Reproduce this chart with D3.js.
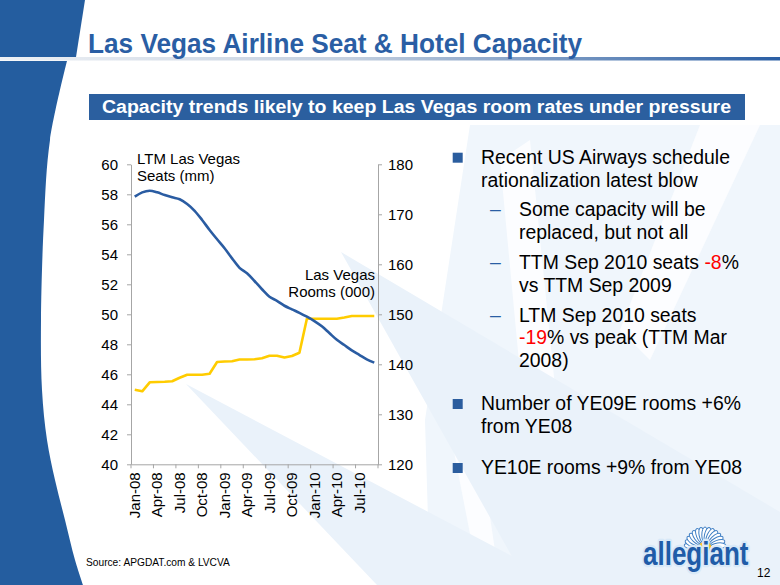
<!DOCTYPE html>
<html><head><meta charset="utf-8">
<script src="https://cdn.jsdelivr.net/npm/d3@7"></script>
<style>
body{margin:0;background:#fff}
svg{display:block}
text{font-family:"Liberation Sans",Arial,Helvetica,sans-serif}
</style></head>
<body><svg id="c" width="780" height="585"></svg>
<script>
// ---------- data ----------
const months = ["Jan-08","Feb-08","Mar-08","Apr-08","May-08","Jun-08","Jul-08","Aug-08","Sep-08","Oct-08","Nov-08","Dec-08",
  "Jan-09","Feb-09","Mar-09","Apr-09","May-09","Jun-09","Jul-09","Aug-09","Sep-09","Oct-09","Nov-09","Dec-09",
  "Jan-10","Feb-10","Mar-10","Apr-10","May-10","Jun-10","Jul-10","Aug-10","Sep-10"];
const tickLabels = ["Jan-08","Apr-08","Jul-08","Oct-08","Jan-09","Apr-09","Jul-09","Oct-09","Jan-10","Apr-10","Jul-10"];
const seats = [57.84,58.13,58.24,58.13,57.95,57.8,57.67,57.35,56.9,56.29,55.62,55.0,54.4,53.73,53.1,52.73,52.22,51.67,51.17,50.9,50.57,50.33,50.1,49.84,49.55,49.2,48.75,48.3,47.95,47.6,47.3,47.0,46.78];
const rooms = [134.9,134.6,136.4,136.45,136.5,136.6,137.3,137.9,137.9,137.9,138.1,140.45,140.55,140.6,140.95,140.95,141.0,141.2,141.7,141.7,141.35,141.65,142.3,149.1,149.1,149.1,149.1,149.1,149.35,149.65,149.65,149.65,149.65];
const leftTicks = [40,42,44,46,48,50,52,54,56,58,60];
const rightTicks = [120,130,140,150,160,170,180];

const blue = "#2a5ea4";
const svg = d3.select("#c");

// ---------- background ----------
const pale = "#eaf2fa";
svg.append("rect").attr("width",780).attr("height",585).attr("fill","#fff");
// text-area pale tint (soft, slanted edges) with white rays
svg.append("path").attr("fill","#f0f6fc")
  .attr("d","M470,125 L780,125 L780,585 L430,585 L425,420 Z");
const whiteRays = [
  [[500,160],[530,140],[575,585],[540,585]],
  [[620,330],[700,125],[760,125],[650,360]],
  [[440,380],[470,380],[500,585],[480,585]]
];
whiteRays.forEach(p=>svg.append("path").attr("fill","#fcfdff").attr("d","M"+p.join("L")+"Z"));
const paleRays = [
  [[186,384],[900,761],[377,585]],
  [[341,252],[780,512],[780,585],[528,585]]
];
paleRays.forEach(p=>svg.append("path").attr("fill",pale).attr("d","M"+p.join("L")+"Z"));

// left blue shapes
svg.append("path").attr("fill","#245d9f").attr("d","M0,0 L85,0 L76,57 L0,57 Z");
const edge = [[67,61],[50,140],[44,220],[41,320],[42,390],[47,440],[55,480],[65,520],[75,560],[83,585]];
const edgeLine = d3.line().curve(d3.curveCatmullRom);
svg.append("path").attr("fill","#245d9f")
  .attr("d", "M0,61 L" + edgeLine(edge).slice(1) + " L0,585 Z");

// title rule with gradient
const defs = svg.append("defs");
const lg = defs.append("linearGradient").attr("id","rule").attr("x1","0").attr("x2","1");
lg.append("stop").attr("offset","0").attr("stop-color","#eef1f5");
lg.append("stop").attr("offset","0.45").attr("stop-color","#c3cfdf");
lg.append("stop").attr("offset","1").attr("stop-color","#2a5ea4");
svg.append("rect").attr("x",0).attr("y",57).attr("width",780).attr("height",3.5).attr("fill","url(#rule)");

// title
svg.append("text").attr("x",88).attr("y",53).attr("font-size",27).attr("font-weight","bold")
  .attr("fill",blue).attr("textLength",494).attr("lengthAdjust","spacingAndGlyphs")
  .text("Las Vegas Airline Seat & Hotel Capacity");

// banner
svg.append("rect").attr("x",89).attr("y",94).attr("width",656).attr("height",26).attr("fill","#2b5f9f");
svg.append("text").attr("x",102).attr("y",112.5).attr("font-size",17.5).attr("font-weight","bold")
  .attr("fill","#fff").attr("textLength",629).attr("lengthAdjust","spacingAndGlyphs")
  .text("Capacity trends likely to keep Las Vegas room rates under pressure");

// ---------- chart ----------
const x = d3.scaleBand().domain(months).range([131,378]);
const yL = d3.scaleLinear().domain([40,60]).range([464.3,164.3]);
const yR = d3.scaleLinear().domain([120,180]).range([464.3,164.3]);
const cx = (d,i)=>x(months[i]) + x.bandwidth()/2;
const axisCol = "#a6a6a6";

function styleAxis(g){
  g.selectAll("path.domain").attr("stroke",axisCol);
  g.selectAll(".tick line").attr("stroke",axisCol);
  g.selectAll(".tick text").attr("fill","#000").attr("font-size",15)
    .attr("font-family","Liberation Sans, Arial, sans-serif");
}

const gL = svg.append("g").attr("transform","translate(131,0)")
  .call(d3.axisLeft(yL).tickValues(leftTicks).tickSize(4).tickSizeOuter(0).tickPadding(9));
styleAxis(gL);

const gR = svg.append("g").attr("transform","translate(378,0)")
  .call(d3.axisRight(yR).tickValues(rightTicks).tickSize(4).tickSizeOuter(0).tickPadding(6));
styleAxis(gR);

const gB = svg.append("g").attr("transform","translate(0,464.3)")
  .call(d3.axisBottom(x).tickValues(tickLabels).tickSize(0).tickSizeOuter(0));
styleAxis(gB);
gB.selectAll(".tick text").attr("transform","rotate(-90)").attr("x",-8).attr("y",0)
  .attr("dy","0.35em").attr("text-anchor","end");
// boundary tick marks
gB.selectAll("line.bt").data(tickLabels).join("line").attr("class","bt")
  .attr("x1",d=>x(d)).attr("x2",d=>x(d)).attr("y1",0).attr("y2",4).attr("stroke",axisCol);
gB.append("line").attr("x1",x.range()[1]).attr("x2",x.range()[1]).attr("y1",0).attr("y2",4).attr("stroke",axisCol);

// lines
svg.append("path").datum(rooms).attr("fill","none").attr("stroke","#ffcc00").attr("stroke-width",2.6)
  .attr("stroke-linejoin","round")
  .attr("d", d3.line().x(cx).y(d=>yR(d)));
svg.append("path").datum(seats).attr("fill","none").attr("stroke","#2a5ca2").attr("stroke-width",2.6)
  .attr("stroke-linejoin","round")
  .attr("d", d3.line().x(cx).y(d=>yL(d)).curve(d3.curveMonotoneX));

// annotations
const ann = svg.append("g").attr("font-size",15).attr("fill","#000");
ann.append("text").attr("x",137).attr("y",163.5).text("LTM Las Vegas");
ann.append("text").attr("x",137).attr("y",181).text("Seats (mm)");
ann.append("text").attr("x",375).attr("y",279.5).attr("text-anchor","end").text("Las Vegas");
ann.append("text").attr("x",375).attr("y",297).attr("text-anchor","end").text("Rooms (000)");

// ---------- bullets ----------
const bt = svg.append("g").attr("font-size",19.4).attr("fill","#000");
function sq(y){ svg.append("rect").attr("x",452.7).attr("y",y).attr("width",10).attr("height",10).attr("fill","#2b5d9e"); }
function dash(y){ bt.append("text").attr("x",490).attr("y",y).attr("fill",blue).text("\u2013"); }
sq(152.7);
bt.append("text").attr("x",481).attr("y",164).text("Recent US Airways schedule");
bt.append("text").attr("x",481).attr("y",186.7).text("rationalization latest blow");
dash(216);
bt.append("text").attr("x",519).attr("y",216).text("Some capacity will be");
bt.append("text").attr("x",519).attr("y",239.3).text("replaced, but not all");
dash(269);
const t1 = bt.append("text").attr("x",519).attr("y",269);
t1.append("tspan").text("TTM Sep 2010 seats ");
t1.append("tspan").attr("fill","#ff0000").text("-8");
t1.append("tspan").text("%");
bt.append("text").attr("x",519).attr("y",291.7).text("vs TTM Sep 2009");
dash(321.7);
bt.append("text").attr("x",519).attr("y",321.7).text("LTM Sep 2010 seats");
const t2 = bt.append("text").attr("x",519).attr("y",344.4);
t2.append("tspan").attr("fill","#ff0000").text("-19");
t2.append("tspan").text("% vs peak (TTM Mar");
bt.append("text").attr("x",519).attr("y",367.1).text("2008)");
sq(399);
bt.append("text").attr("x",481).attr("y",410).text("Number of YE09E rooms +6%");
bt.append("text").attr("x",481).attr("y",432.7).text("from YE08");
sq(463);
bt.append("text").attr("x",481).attr("y",474).text("YE10E rooms +9% from YE08");

// source and page number
svg.append("text").attr("x",86).attr("y",566).attr("font-size",10.2).attr("fill","#000").text("Source: APGDAT.com & LVCVA");
svg.append("text").attr("x",757).attr("y",577).attr("font-size",12).attr("fill","#000").text("12");

// ---------- logo ----------
const logo = svg.append("g");
const fc = [705,548];
d3.range(15).forEach(k=>{
  const a = -172 + k*(164/14);
  logo.append("ellipse").attr("cx",0).attr("cy",-13).attr("rx",3.2).attr("ry",8)
    .attr("fill","#fff").attr("stroke","#3f7fc4").attr("stroke-width",1)
    .attr("transform",`translate(${fc[0]},${fc[1]}) rotate(${a+90})`);
});
logo.append("circle").attr("cx",fc[0]).attr("cy",fc[1]).attr("r",6.5).attr("fill","#ffc20e");
logo.append("text").attr("transform","translate(643,565) scale(1,1.25)")
  .attr("font-size",26).attr("font-weight","bold")
  .attr("fill","#1f5ca8").attr("stroke","#d8e9f8").attr("stroke-width",3.5).attr("paint-order","stroke")
  .attr("stroke-linejoin","round")
  .text("allegiant");
</script></body></html>
